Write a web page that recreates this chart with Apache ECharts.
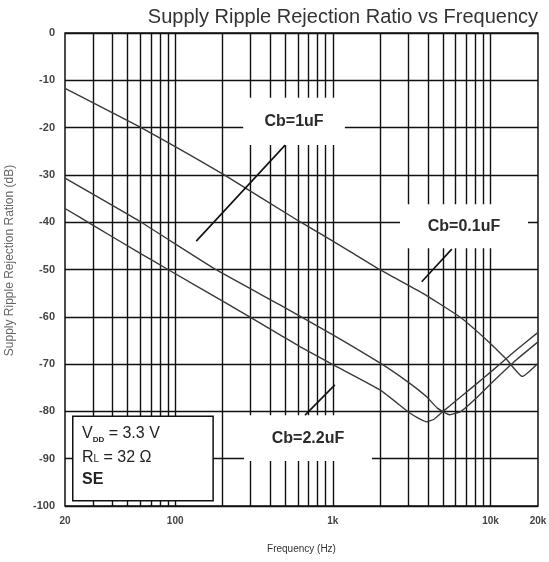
<!DOCTYPE html>
<html><head><meta charset="utf-8">
<script src="https://cdn.jsdelivr.net/npm/echarts@6/dist/echarts.min.js"></script>
<style>html,body{margin:0;padding:0;background:#fff}#c{width:549px;height:562px}</style>
</head><body><div id="c"></div>
<script>
// ---- data ----
const freqCb01 = [20, 30, 60, 100, 200, 618, 1000, 2000, 3700, 6360, 9440, 12700, 15900, 20000];
const dbCb01   = [-11.7, -14.7, -19.9, -24.0, -29.8, -39.9, -44.0, -50.1, -55.0, -60.0, -64.9, -69.1, -72.6, -69.8];

const freqCb1 = [20, 60, 183, 462, 1000, 2000, 3000, 3930, 4600, 5500, 6500, 8000, 10000, 14000, 20000];
const dbCb1   = [-30.7, -39.9, -50.1, -57.5, -63.8, -69.8, -73.8, -76.9, -79.3, -80.7, -80.0, -77.4, -74.2, -69.6, -65.3];

const freqCb22 = [20, 30, 60, 90, 200, 462, 618, 1000, 2000, 3090, 3600, 3930, 4400, 5000, 6000, 8000, 10000, 14000, 20000];
const dbCb22   = [-37.1, -40.6, -46.6, -50.0, -56.7, -63.8, -66.3, -70.1, -75.5, -80.4, -81.7, -82.2, -81.6, -80.0, -77.8, -74.4, -71.7, -67.5, -63.3];

const gridFreqs = [30, 40, 50, 60, 70, 80, 90, 100, 200, 300, 400, 500, 600, 700, 800, 900, 1000,
                   2000, 3000, 4000, 5000, 6000, 7000, 8000, 9000, 10000];
const xTickValues = [20, 100, 1000, 10000, 20000];
const xTickLabels = ['20', '100', '1k', '10k', '20k'];

// annotation boxes [fLeft, dbTop, fRight, dbBottom] and pointer lines
const box1uF  = [270, -13.7, 1192, -23.7];
const box01uF = [2664, -36.2, 17280, -45.5];
const box22uF = [273, -80.8, 1770, -90.5];
const boxCond = [22.4, -81.0, 174, -98.9];
const ptr1uF  = [[498, -23.7], [136, -44.0]];
const ptr01uF = [[5680, -45.7], [3660, -52.6]];
const ptr22uF = [[1030, -74.4], [666, -80.8]];

const FONT = 'Liberation Sans';
const zip = (xs, ys) => xs.map((x, i) => [x, ys[i]]);
const area = (b) => [[{xAxis: b[0], yAxis: b[1]}, {xAxis: b[2], yAxis: b[3]}]];

const chart = echarts.init(document.getElementById('c'));
const curveStyle = {color: '#3a3a3a', width: 1.4};
const labelBox = (b, text) => ({
  type: 'line', data: [], z: 2, silent: true,
  markArea: {
    silent: true, z: 2,
    itemStyle: {color: '#fff', opacity: 1, borderWidth: 0},
    label: {show: true, position: 'inside', formatter: text,
            fontFamily: FONT, fontSize: 16, fontWeight: 'bold', color: '#2a2a2a'},
    data: area(b)
  }
});
const ptrSeries = (pts) => ({
  type: 'line', data: pts, z: 4, symbol: 'none', silent: true,
  lineStyle: {color: '#111', width: 1.6}
});

chart.setOption({
  animation: false,
  backgroundColor: '#fff',
  title: {
    text: 'Supply Ripple Rejection Ratio vs Frequency',
    right: 11, top: 7, padding: 0,
    textStyle: {fontFamily: FONT, fontSize: 20, fontWeight: 'normal', color: '#333'}
  },
  grid: {left: 65, right: 11, top: 33, bottom: 56, show: true, containLabel: false,
         outerBoundsMode: 'none',
         borderColor: '#111', borderWidth: 1.5, backgroundColor: '#fff'},
  xAxis: {
    type: 'log', logBase: 10, min: 20, max: 20000,
    name: 'Frequency (Hz)', nameLocation: 'middle', nameGap: 38,
    nameTextStyle: {fontFamily: FONT, fontSize: 10, color: '#333'},
    axisLine: {show: false}, axisTick: {show: false}, splitLine: {show: false},
    axisLabel: {
      customValues: xTickValues,
      formatter: (v) => { const i = xTickValues.findIndex(t => Math.abs(t - v) / t < 1e-6); return i >= 0 ? xTickLabels[i] : ''; },
      fontFamily: FONT, fontSize: 10, fontWeight: 'bold', color: '#444', margin: 10
    }
  },
  yAxis: {
    type: 'value', min: -100, max: 0, interval: 10,
    name: 'Supply Ripple Rejection Ration (dB)', nameLocation: 'middle', nameGap: 49, nameRotate: 90,
    nameTextStyle: {fontFamily: FONT, fontSize: 12, color: '#666', padding: [0, 0, 0, 18]},
    axisLine: {show: false}, axisTick: {show: false},
    splitLine: {show: true, lineStyle: {color: '#111', width: 1.4}},
    axisLabel: {fontFamily: FONT, fontSize: 11, fontWeight: 'bold', color: '#444', margin: 10}
  },
  series: [
    { // vertical grid lines
      type: 'line', data: [], z: 1, silent: true,
      markLine: {silent: true, z: 1, symbol: 'none', label: {show: false},
                 lineStyle: {color: '#111', width: 1.4, type: 'solid'},
                 data: gridFreqs.map(f => ({xAxis: f}))}
    },
    labelBox(box1uF, 'Cb=1uF'),
    labelBox(box01uF, 'Cb=0.1uF'),
    labelBox(box22uF, 'Cb=2.2uF'),
    { // conditions box
      type: 'line', data: [], z: 2, silent: true,
      markArea: {
        silent: true, z: 2,
        itemStyle: {color: '#fff', opacity: 1, borderColor: '#111', borderWidth: 1.5},
        label: {
          show: true, position: [10, 5],
          formatter: '{a|V}{s|DD}{a| = 3.3 V}\n{b|R}{bs|L}{b| = 32 Ω}\n{c|SE}',
          rich: {
            a: {fontFamily: FONT, fontSize: 16, color: '#222', lineHeight: 26},
            s: {fontFamily: FONT, fontSize: 8, fontWeight: 'bold', color: '#222', lineHeight: 26, padding: [12, 0, 0, 0]},
            b: {fontFamily: FONT, fontSize: 16, color: '#222', lineHeight: 22},
            bs: {fontFamily: FONT, fontSize: 10, color: '#222', lineHeight: 22, padding: [3, 0, 0, 0]},
            c: {fontFamily: FONT, fontSize: 16, fontWeight: 'bold', color: '#222', lineHeight: 22}
          }
        },
        data: area(boxCond)
      }
    },
    {name: 'Cb=0.1uF', type: 'line', data: zip(freqCb01, dbCb01), z: 3, symbol: 'none', smooth: 0.15, lineStyle: curveStyle},
    {name: 'Cb=1uF', type: 'line', data: zip(freqCb1, dbCb1), z: 3, symbol: 'none', smooth: 0.15, lineStyle: curveStyle},
    {name: 'Cb=2.2uF', type: 'line', data: zip(freqCb22, dbCb22), z: 3, symbol: 'none', smooth: 0.15, lineStyle: curveStyle},
    ptrSeries(ptr1uF),
    ptrSeries(ptr01uF),
    ptrSeries(ptr22uF)
  ]
});
</script>
</body></html>
